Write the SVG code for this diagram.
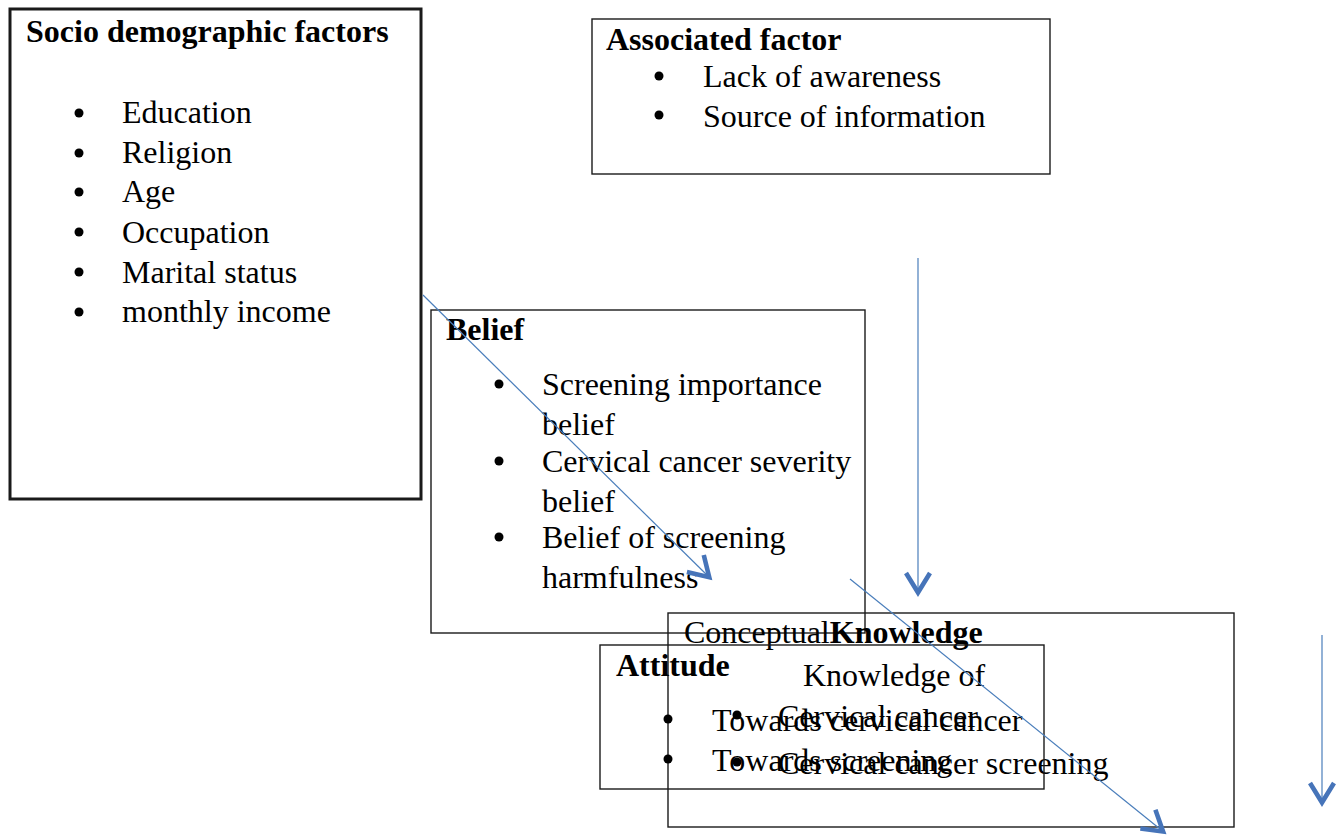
<svg xmlns="http://www.w3.org/2000/svg" width="1340" height="835" viewBox="0 0 1340 835">
<style>
  text { font-family: "Liberation Serif", "Times New Roman", serif; font-size: 32px; fill: #000; }
  .b { font-weight: bold; }
  .box { fill: none; stroke: #1a1a1a; stroke-width: 1.4; }
  .thick { fill: none; stroke: #1a1a1a; stroke-width: 3; }
  .dot { fill: #000; }
  .con { fill: none; stroke: #4a7ebb; stroke-width: 1.2; marker-end: url(#chev); }
</style>
<defs>
  <marker id="chev" markerUnits="userSpaceOnUse" markerWidth="40" markerHeight="40" viewBox="-30 -20 40 40" refX="0" refY="0" orient="auto">
    <path d="M-22,-12 L-2.5,0 L-22,12" fill="none" stroke="#4674b9" stroke-width="4.6"/>
  </marker>
</defs>
<rect width="1340" height="835" fill="#fff"/>

<g id="socio">
  <rect class="thick" x="10" y="9" width="411" height="490"/>
  <text class="b" x="26" y="42">Socio demographic factors</text>
  <circle class="dot" cx="79" cy="113" r="4.5"/><text x="122" y="123">Education</text>
  <circle class="dot" cx="79" cy="153" r="4.5"/><text x="122" y="163">Religion</text>
  <circle class="dot" cx="79" cy="192" r="4.5"/><text x="122" y="202">Age</text>
  <circle class="dot" cx="79" cy="232" r="4.5"/><text x="122" y="243">Occupation</text>
  <circle class="dot" cx="79" cy="272" r="4.5"/><text x="122" y="283">Marital status</text>
  <circle class="dot" cx="79" cy="312" r="4.5"/><text x="122" y="322">monthly income</text>
</g>

<g id="associated">
  <rect class="box" x="592" y="19" width="458" height="155"/>
  <text class="b" x="606" y="50">Associated factor</text>
  <circle class="dot" cx="659" cy="76" r="4.5"/><text x="703" y="87">Lack of awareness</text>
  <circle class="dot" cx="659" cy="115" r="4.5"/><text x="703" y="127">Source of information</text>
</g>

<g id="belief">
  <rect class="box" x="431" y="310" width="434" height="323"/>
  <text class="b" x="446" y="340">Belief</text>
  <circle class="dot" cx="499" cy="384" r="4.5"/><text x="542" y="395">Screening importance</text>
  <text x="542" y="435">belief</text>
  <circle class="dot" cx="499" cy="461" r="4.5"/><text x="542" y="472">Cervical cancer severity</text>
  <text x="542" y="512">belief</text>
  <circle class="dot" cx="499" cy="537" r="4.5"/><text x="542" y="548">Belief of screening</text>
  <text x="542" y="588">harmfulness</text>
</g>

<g id="knowledge">
  <rect class="box" x="668" y="613" width="566" height="214"/>
  <text x="684" y="643">Conceptual<tspan class="b">Knowledge</tspan></text>
  <text x="803" y="686">Knowledge of</text>
  <circle class="dot" cx="737" cy="715" r="4.5"/><text x="778" y="727">Cervical cancer</text>
  <circle class="dot" cx="737" cy="762" r="4.5"/><text x="778" y="774">Cervical cancer screening</text>
</g>

<g id="attitude">
  <rect class="box" x="600" y="645" width="444" height="144"/>
  <text class="b" x="616" y="676">Attitude</text>
  <circle class="dot" cx="668" cy="719" r="4.5"/><text x="712" y="731">Towards cervical cancer</text>
  <circle class="dot" cx="668" cy="759" r="4.5"/><text x="712" y="771">Towards screening</text>
</g>

<g id="connectors">
  <line class="con" x1="423" y1="295" x2="711" y2="579"/>
  <line class="con" x1="918" y1="258" x2="918" y2="595"/>
  <line class="con" x1="850" y1="579" x2="1165" y2="833"/>
  <line class="con" x1="1322" y1="635" x2="1322" y2="805"/>
</g>
</svg>
